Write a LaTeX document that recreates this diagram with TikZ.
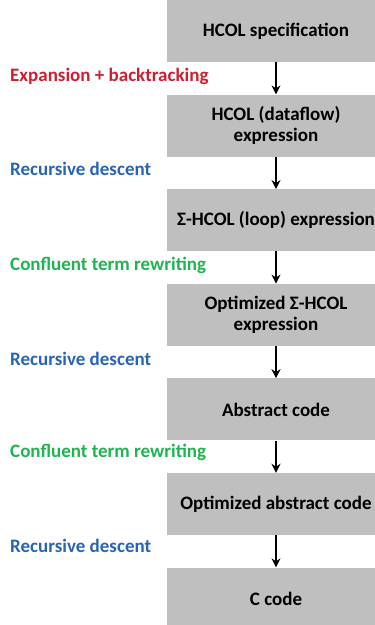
\documentclass[tikz,border=0pt]{standalone}
\usepackage{fontspec}
\setmainfont{Carlito}
\usepackage{tikz}
\usetikzlibrary{arrows.meta, positioning}

\definecolor{boxgray}{RGB}{191,191,191}
\definecolor{expred}{RGB}{204,32,48}
\definecolor{recblue}{RGB}{40,100,180}
\definecolor{rwgreen}{RGB}{30,180,80}

\begin{document}
\begin{tikzpicture}[x=1pt,y=1pt,
    node distance=32.2pt,
    box/.style={rectangle,fill=boxgray,minimum width=218pt,minimum height=62pt,
        inner sep=0pt,align=center,font=\bfseries\fontsize{19}{21}\selectfont},
    flow/.style={-{Stealth[length=9pt,width=9pt]},line width=2.4pt},
    lab/.style={anchor=west,inner sep=0pt,font=\bfseries\fontsize{19}{21}\selectfont}]
    % 画布大小
    \clip (0,0) rectangle (375,-625);
    % 各阶段框框
    \node[box] (spec) at (276,-31) {HCOL specification};
    \node[box, below=of spec] (dataflow) {HCOL (dataflow)\\expression};
    \node[box, below=of dataflow] (loop) {Σ-HCOL (loop) expression};
    \node[box, below=of loop] (optloop) {Optimized Σ-HCOL\\expression};
    \node[box, below=of optloop] (abstract) {Abstract code};
    \node[box, below=of abstract] (optabstract) {Optimized abstract code};
    \node[box, below=of optabstract] (ccode) {C code};

    % 箭头
    \draw[flow] (spec) -- (dataflow);
    \draw[flow] (dataflow) -- (loop);
    \draw[flow] (loop) -- (optloop);
    \draw[flow] (optloop) -- (abstract);
    \draw[flow] (abstract) -- (optabstract);
    \draw[flow] (optabstract) -- (ccode);

    % 左侧变换说明
    \node[lab, text=expred] (expand) at (10,-76) {Expansion + backtracking};
    \node[lab, text=recblue] (descent1) at (10,-169) {Recursive descent};
    \node[lab, text=rwgreen] (rewrite1) at (10,-265) {Confluent term rewriting};
    \node[lab, text=recblue] (descent2) at (10,-359) {Recursive descent};
    \node[lab, text=rwgreen] (rewrite2) at (10,-452) {Confluent term rewriting};
    \node[lab, text=recblue] (descent3) at (10,-546) {Recursive descent};
\end{tikzpicture}
\end{document}
